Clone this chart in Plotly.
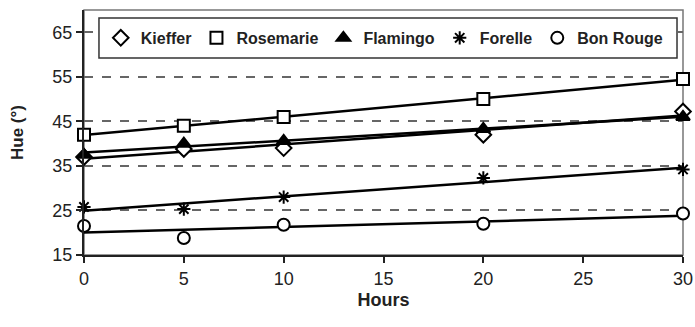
import numpy as np
import plotly.graph_objects as go

hours = [0, 5, 10, 20, 30]
kieffer = [37.0, 38.8, 39.0, 42.0, 47.2]
rosemarie = [42.0, 44.0, 46.0, 50.0, 54.5]
flamingo = [37.5, 40.0, 40.6, 43.3, 46.0]
forelle = [25.8, 25.3, 28.0, 32.3, 34.2]
bon_rouge = [21.5, 18.8, 21.8, 22.0, 24.3]

series = [
    ("Kieffer", kieffer, "diamond", "white"),
    ("Rosemarie", rosemarie, "square", "white"),
    ("Flamingo", flamingo, "triangle-up", "black"),
    ("Forelle", forelle, "asterisk-open", "black"),
    ("Bon Rouge", bon_rouge, "circle", "white"),
]

fig = go.Figure()
xs = np.array([0, 30])
for name, vals, sym, fill in series:
    slope, icpt = np.polyfit(hours, vals, 1)
    fig.add_trace(go.Scatter(x=xs, y=slope * xs + icpt, mode="lines",
                             line=dict(color="black", width=2.5),
                             showlegend=False, hoverinfo="skip", cliponaxis=False))
for name, vals, sym, fill in series:
    fig.add_trace(go.Scatter(x=hours, y=vals, mode="markers", name=name, cliponaxis=False,
                             marker=dict(symbol=sym, size=12 if sym != "asterisk-open" else 11,
                                         color=fill,
                                         line=dict(color="black", width=2))))

font_fam = "Liberation Sans, Arial"
fig.update_layout(
    width=695, height=327,
    margin=dict(l=84, r=12, t=10, b=72),
    plot_bgcolor="white", paper_bgcolor="white",
    font=dict(family=font_fam, size=18, color="#222"),
    showlegend=True,
    legend=dict(orientation="h", x=0.028, y=0.886, xanchor="left", yanchor="middle",
                bgcolor="rgba(0,0,0,0)", borderwidth=0,
                font=dict(size=16, family=font_fam, weight="bold", color="#222"),
                itemwidth=30, tracegroupgap=0),
    xaxis=dict(range=[0, 30], dtick=5, tick0=0, showgrid=False, zeroline=False,
               showline=True, linecolor="#222", linewidth=2, automargin=False,
               ticks="outside", ticklen=6, tickcolor="#222", tickwidth=1.5,
               tickfont=dict(size=18), ticklabeloverflow="allow",
               title=dict(text="<b>Hours</b>", font=dict(size=18), standoff=6)),
    yaxis=dict(range=[15, 70], dtick=10, tick0=15, showgrid=True,
               gridcolor="#666", griddash="dash", gridwidth=1.5, zeroline=False,
               showline=True, linecolor="#222", linewidth=2, automargin=False,
               ticks="outside", ticklen=6, tickcolor="#222", tickwidth=1.5,
               tickfont=dict(size=18),
               title=dict(text="<b>Hue (°)</b>", font=dict(size=17), standoff=24)),
    shapes=[
        dict(type="rect", xref="paper", yref="paper", x0=0, y0=0, x1=1, y1=1,
             line=dict(color="#777", width=1.5), layer="below"),
        dict(type="rect", xref="paper", yref="paper", x0=0.025, x1=0.990, y0=0.804, y1=0.967,
             line=dict(color="#333", width=1.5), fillcolor="white", layer="above"),
    ],
)

fig.write_html("out.html", config={"displayModeBar": False},
               post_script="document.body.style.margin='0';document.body.style.overflow='hidden';")
